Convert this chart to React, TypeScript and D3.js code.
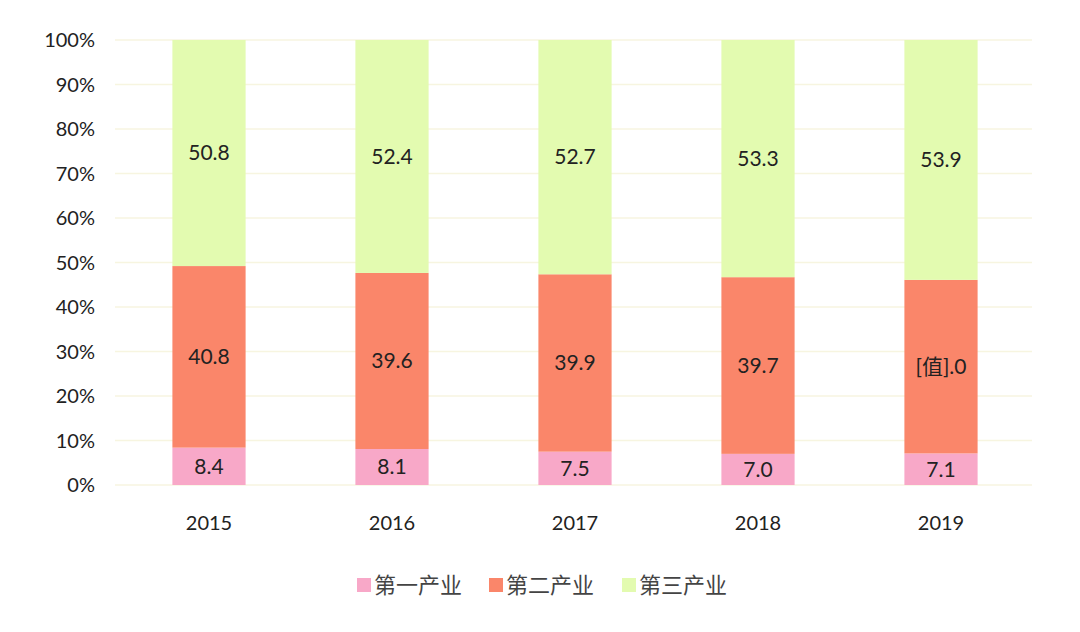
import React from "react";
import * as d3 from "d3";

const years = ["2015", "2016", "2017", "2018", "2019"];
const primary = [8.4, 8.1, 7.5, 7.0, 7.1];
const secondary = [40.8, 39.6, 39.9, 39.7, 39.0];
const tertiary = [50.8, 52.4, 52.7, 53.3, 53.9];
const primaryLabels = ["8.4", "8.1", "7.5", "7.0", "7.1"];
const secondaryLabels = ["40.8", "39.6", "39.9", "39.7", "[值].0"];
const tertiaryLabels = ["50.8", "52.4", "52.7", "53.3", "53.9"];
const seriesNames = ["第一产业", "第二产业", "第三产业"];
const yTicks = [0, 0.1, 0.2, 0.3, 0.4, 0.5, 0.6, 0.7, 0.8, 0.9, 1.0];

const colors = ["#f8a8c8", "#fa866a", "#e3fbb0"];
const keys = ["p", "s", "t"];

export default function App() {
  const W = 1080, H = 632;
  const x = d3.scaleBand().domain(years).range([117.5, 1032.5]).paddingInner(0.6).paddingOuter(0.3);
  const y = d3.scaleLinear().domain([0, 1]).range([485, 40]);
  const rows = years.map((yr, i) => ({ year: yr, p: primary[i], s: secondary[i], t: tertiary[i] }));
  const stack = d3.stack<any>().keys(keys).offset(d3.stackOffsetExpand);
  const series = stack(rows);
  const labels = [primaryLabels, secondaryLabels, tertiaryLabels];
  const fmt = d3.format(".0%");
  const legendX = [357, 489, 622];

  return (
    <svg width={W} height={H} style={{ position: "absolute", left: 0, top: 0, background: "#fff" }}
      fontFamily="Lato, 'Open Sans', 'Noto Sans CJK SC', sans-serif">
      {yTicks.map((t) => (
        <g key={t}>
          <line x1={115} x2={1032} y1={y(t)} y2={y(t)} stroke="#f7f5e0" strokeWidth={1.5} />
          <text x={95} y={y(t)} dy="0.35em" textAnchor="end" fontSize={20} fill="#222">{fmt(t)}</text>
        </g>
      ))}
      {series.map((s, si) => (
        <g key={si}>
          {s.map((d, i) => {
            const x0 = x(years[i])!;
            const y0 = y(d[1]);
            const y1 = y(d[0]);
            return (
              <g key={i}>
                <rect x={x0} y={y0} width={x.bandwidth()} height={y1 - y0} fill={colors[si]} />
                <text x={x0 + x.bandwidth() / 2} y={(y0 + y1) / 2} dy="0.35em" textAnchor="middle"
                  fontSize={21} fill="#222">{labels[si][i]}</text>
              </g>
            );
          })}
        </g>
      ))}
      {years.map((yr) => (
        <text key={yr} x={x(yr)! + x.bandwidth() / 2} y={523} dy="0.35em" textAnchor="middle" fontSize={20} fill="#222">{yr}</text>
      ))}
      {seriesNames.map((n, i) => (
        <g key={n}>
          <rect x={legendX[i]} y={578} width={14} height={14} fill={colors[i]} />
          <text x={legendX[i] + 17} y={585} dy="0.35em" fontSize={22} fill="#444"
            fontFamily="'Noto Sans CJK SC', sans-serif">{n}</text>
        </g>
      ))}
    </svg>
  );
}
